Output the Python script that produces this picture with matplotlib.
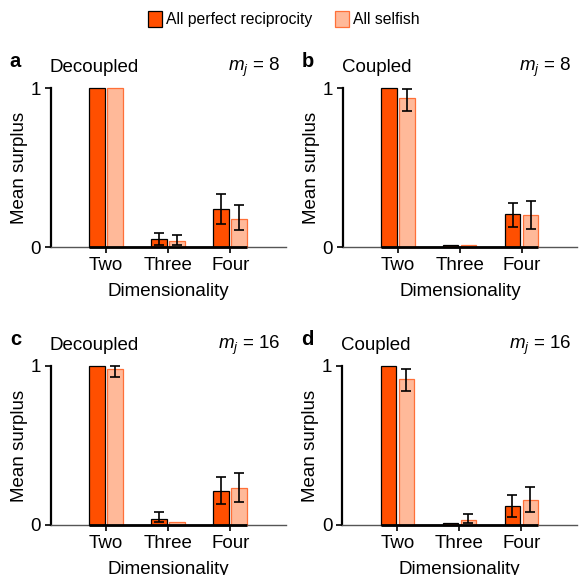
import numpy as np
import matplotlib
matplotlib.use('Agg')
import matplotlib.pyplot as plt
from matplotlib.patches import Patch

categories = ['Two', 'Three', 'Four']
panel_letters = ['a', 'b', 'c', 'd']
panel_titles = ['Decoupled', 'Coupled', 'Decoupled', 'Coupled']
panel_m = ['8', '8', '16', '16']

# mean surplus, all perfect reciprocity
recip_mean = [
    [1.0, 0.048, 0.238],
    [1.0, 0.015, 0.206],
    [1.0, 0.040, 0.214],
    [1.0, 0.015, 0.118],
]
recip_lo = [
    [None, 0.015, 0.147],
    [None, None, 0.126],
    [None, 0.017, 0.132],
    [None, None, 0.053],
]
recip_hi = [
    [None, 0.090, 0.333],
    [None, None, 0.280],
    [None, 0.080, 0.300],
    [None, None, 0.190],
]

# mean surplus, all selfish
selfish_mean = [
    [1.0, 0.036, 0.177],
    [0.939, 0.015, 0.202],
    [0.979, 0.017, 0.235],
    [0.920, 0.034, 0.158],
]
selfish_lo = [
    [None, 0.015, 0.105],
    [0.857, None, 0.111],
    [0.933, None, 0.143],
    [0.840, 0.015, 0.082],
]
selfish_hi = [
    [None, 0.074, 0.263],
    [0.996, None, 0.292],
    [1.000, None, 0.326],
    [0.979, 0.072, 0.238],
]

dark = '#ff4f00'
light = '#ffb999'
light_edge = '#ff7038'

plt.rcParams['font.family'] = ['Liberation Sans', 'DejaVu Sans']
plt.rcParams['font.size'] = 13.5
plt.rcParams['mathtext.fontset'] = 'custom'
plt.rcParams['mathtext.it'] = 'Liberation Sans:italic'
plt.rcParams['mathtext.rm'] = 'Liberation Sans'


def draw_err(ax, xs, lo, hi):
    for x, l, h in zip(xs, lo, hi):
        if l is None:
            continue
        mid = (l + h) / 2
        ax.errorbar(x, mid, yerr=[[mid - l], [h - mid]], fmt='none',
                    ecolor='black', elinewidth=1.2, capsize=3.5,
                    capthick=1.2, zorder=4, clip_on=False)


def main():
    fig = plt.figure(figsize=(5.79, 5.75), dpi=100)
    positions = [
        [0.088, 0.5704, 0.406, 0.2765],
        [0.592, 0.5704, 0.405, 0.2765],
        [0.088, 0.087, 0.406, 0.2765],
        [0.591, 0.087, 0.406, 0.2765],
    ]
    x = np.arange(len(categories))
    w = 0.25
    off = 0.145
    for i in range(4):
        ax = fig.add_axes(positions[i])
        ax.bar(x - off, recip_mean[i], w, color=dark, edgecolor='black',
               linewidth=0.9, zorder=3, clip_on=False)
        ax.bar(x + off, selfish_mean[i], w, color=light, edgecolor=light_edge,
               linewidth=0.9, zorder=3, clip_on=False)
        draw_err(ax, x - off, recip_lo[i], recip_hi[i])
        draw_err(ax, x + off, selfish_lo[i], selfish_hi[i])
        ax.plot([x[0] - off - w / 2, x[-1] + off + w / 2], [0, 0],
                color='black', lw=2, zorder=5, clip_on=False,
                solid_capstyle='butt')

        ax.set_xlim(-0.89, 2.9)
        ax.set_ylim(0, 1)
        ax.set_yticks([0, 1])
        ax.set_yticklabels(['0', '1'])
        ax.set_xticks(x)
        ax.set_xticklabels(categories)
        ax.spines['top'].set_visible(False)
        ax.spines['right'].set_visible(False)
        ax.spines['left'].set_linewidth(1.6)
        ax.spines['bottom'].set_color('#555555')
        ax.spines['bottom'].set_linewidth(1.0)
        ax.tick_params(axis='y', length=4, width=1.2, pad=3, labelsize=13.5)
        ax.tick_params(axis='x', length=4, width=1.2, pad=3, labelsize=13.5)
        ax.set_xlabel('Dimensionality', fontsize=13.5, labelpad=7)
        ax.set_ylabel('Mean surplus', fontsize=13.5, labelpad=2)

        ax.text(-0.175, 1.165, panel_letters[i], transform=ax.transAxes,
                fontsize=14.5, fontweight='bold', ha='left', va='center')
        ax.text(-0.005, 1.13, panel_titles[i], transform=ax.transAxes,
                fontsize=13.5, ha='left', va='center')
        ax.text(0.975, 1.13, r'$m_j$ = ' + panel_m[i], transform=ax.transAxes,
                fontsize=13.5, ha='right', va='center')

    handles = [Patch(facecolor=dark, edgecolor='black', linewidth=0.9),
               Patch(facecolor=light, edgecolor=light_edge, linewidth=0.9)]
    fig.legend(handles, ['All perfect reciprocity', 'All selfish'],
               loc='center', bbox_to_anchor=(0.49, 0.967), ncol=2,
               frameon=False, fontsize=11.3, handlelength=0.85,
               handleheight=1.2, handletextpad=0.25, columnspacing=1.5)

    plt.savefig('out.png', dpi=100)


if __name__ == '__main__':
    main()
